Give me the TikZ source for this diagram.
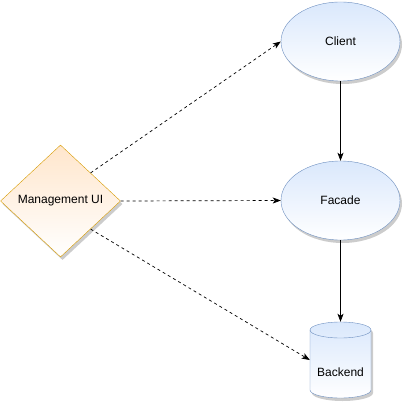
\documentclass[tikz,border=0pt]{standalone}
\usepackage{fontspec}
\setmainfont{Liberation Sans}
\usetikzlibrary{shapes.geometric,arrows.meta,shadows}
\definecolor{bluestroke}{HTML}{6C8EBF}
\definecolor{bluefill}{HTML}{DAE8FC}
\definecolor{orangestroke}{HTML}{D79B00}
\definecolor{orangefill}{HTML}{FFE6CC}
\begin{document}
\begin{tikzpicture}[x=1pt,y=-1pt,
  lbl/.style={font=\fontsize{12}{14}\selectfont},
  shd/.style={drop shadow={shadow xshift=2pt,shadow yshift=-3pt,opacity=0.2,fill=black}},
  ell/.style={ellipse, draw=bluestroke, top color=bluefill, bottom color=white, shd,
    minimum width=119pt, minimum height=79pt, inner sep=0, lbl},
  dia/.style={diamond, draw=orangestroke, top color=orangefill, bottom color=white, shd,
    minimum width=120pt, minimum height=112pt, inner sep=0, aspect=1.07, lbl},
  tip/.style={-{Stealth[length=8pt,width=6pt,inset=2pt]}},
  dashedge/.style={tip, line width=0.7pt, dash pattern=on 3pt off 3pt},
  solidedge/.style={tip, line width=0.7pt}
]
\useasboundingbox (0,0) rectangle (403,404);

\node[ell] (client) at (340.5,41.5) {Client};
\node[ell] (facade) at (340.5,200.5) {Facade};
\node[dia] (mgmt) at (60.5,201) {Management UI};

% backend cylinder
\node[minimum width=61pt, minimum height=76pt, inner sep=0] (backend) at (340.5,360) {};
\fill[black, opacity=0.2] (312,333) -- (312,393) arc[start angle=180, end angle=0, x radius=30.5, y radius=8]
  -- (373,333) arc[start angle=0, end angle=-180, x radius=30.5, y radius=8] -- cycle;
\path[draw=bluestroke, top color=bluefill, bottom color=white]
  (310,330) -- (310,390) arc[start angle=180, end angle=0, x radius=30.5, y radius=8]
  -- (371,330) arc[start angle=0, end angle=-180, x radius=30.5, y radius=8] -- cycle;
\draw[bluestroke] (310,330) arc[start angle=180, end angle=0, x radius=30.5, y radius=8];
\node[lbl] (backendlabel) at (340.5,372) {Backend};

\draw[solidedge] (client.south) -- (facade.north);
\draw[solidedge] (facade.south) -- (backend.north);
\draw[dashedge] (mgmt.north east) -- (client.west);
\draw[dashedge] (mgmt.east) -- (facade.west);
\draw[dashedge] (mgmt.south east) -- (backend.west);
\end{tikzpicture}
\end{document}
